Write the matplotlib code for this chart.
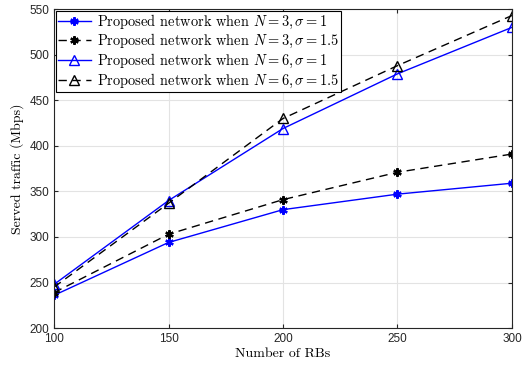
import matplotlib
matplotlib.use("Agg")
import matplotlib.pyplot as plt

plt.rcParams['mathtext.fontset'] = 'cm'
plt.rcParams['axes.unicode_minus'] = False

rbs = [100, 150, 200, 250, 300]
n3_s1 = [236, 294, 330, 347, 359]
n3_s15 = [239, 303, 341, 371, 391]
n6_s1 = [248, 340, 419, 479, 530]
n6_s15 = [245, 337, 430, 488, 543]

labels = [
    r'Proposed network when $N=3,\sigma=1$',
    r'Proposed network when $N=3,\sigma=1.5$',
    r'Proposed network when $N=6,\sigma=1$',
    r'Proposed network when $N=6,\sigma=1.5$',
]

# matlab-style asterisk
ast = (6, 2, 0)

fig = plt.figure(figsize=(5.30, 3.65), dpi=100)
ax = fig.add_axes([0.102, 0.101, 0.864, 0.874])

ax.plot(rbs, n3_s1, color='blue', linestyle='-', marker=ast, markersize=6, mew=1.6, lw=1.0, label=labels[0])
ax.plot(rbs, n3_s15, color='black', linestyle=(0, (6, 4)), marker=ast, markersize=6, mew=1.6, lw=1.0, label=labels[1])
ax.plot(rbs, n6_s1, color='blue', linestyle='-', marker='^', markersize=6.5, mfc='none', mew=1.0, lw=1.0, label=labels[2])
ax.plot(rbs, n6_s15, color='black', linestyle=(0, (6, 4)), marker='^', markersize=6.5, mfc='none', mew=1.0, lw=1.0, label=labels[3])

ax.set_xlim(100, 300)
ax.set_ylim(200, 550)
ax.set_xticks(rbs)
ax.set_yticks(range(200, 551, 50))
ax.grid(True, color='#e3e3e3', lw=0.8)
ax.set_axisbelow(True)
ax.tick_params(direction='in', labelsize=8.5, colors='#262626', length=3, top=True, right=True)
for lab in ax.get_xticklabels() + ax.get_yticklabels():
    lab.set_family('Liberation Sans')
for s in ax.spines.values():
    s.set_color('#262626')
    s.set_linewidth(0.8)

ax.set_xlabel('Number of RBs', family='cmr10', fontsize=10, labelpad=2)
ax.set_ylabel('Served traffic (Mbps)', family='cmr10', fontsize=10, labelpad=4)

leg = ax.legend(loc='upper left', prop={'family': 'cmr10', 'size': 10.4},
                fancybox=False, framealpha=1, edgecolor='black',
                borderpad=0.15, labelspacing=0.1, handlelength=2.3,
                handletextpad=0.4, borderaxespad=0.1)
leg.get_frame().set_linewidth(0.8)

fig.savefig('out.png', dpi=100)
